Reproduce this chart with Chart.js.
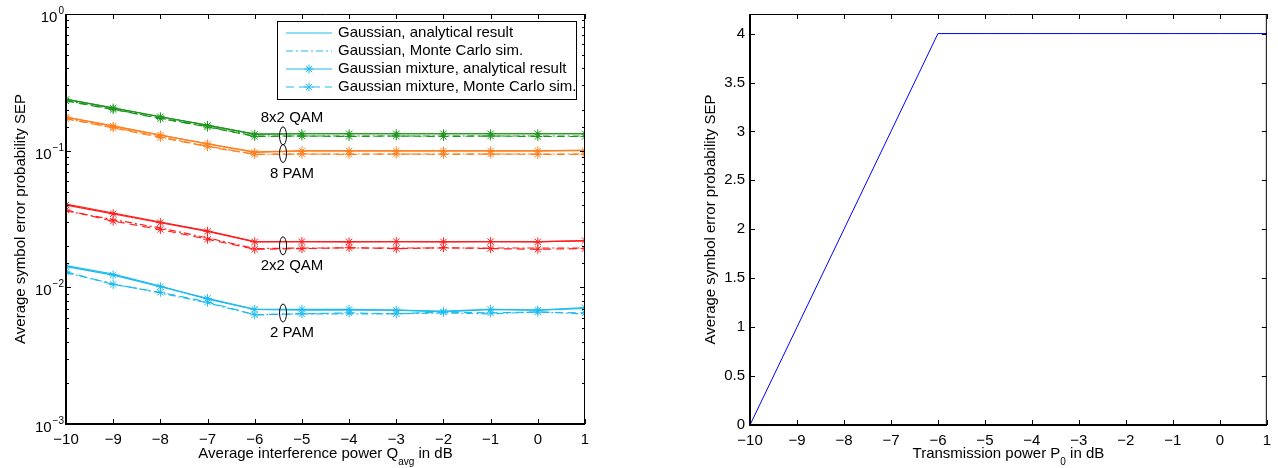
<!DOCTYPE html>
<html>
<head>
<meta charset="utf-8">
<script src="https://cdn.jsdelivr.net/npm/chart.js@4.4.1/dist/chart.umd.min.js"></script>
<style>
body { margin: 0; background: #fff; }
#left { position: absolute; left: 0; top: 0; width: 600px; height: 468px; }
#right { position: absolute; left: 640px; top: 0; width: 638px; height: 468px; }
</style>
</head>
<body>
<div id="left"><canvas id="sepChart"></canvas></div>
<div id="right"><canvas id="powerChart"></canvas></div>
<script>
// x-as: gemiddeld interferentievermogen / zendvermogen in dB
var xValues = [-10, -9, -8, -7, -6, -5, -4, -3, -2, -1, 0, 1];

// 8x2 QAM
var qam8x2GaussAna = [0.238, 0.206, 0.177, 0.154, 0.132, 0.133, 0.133, 0.133, 0.133, 0.133, 0.133, 0.133];
var qam8x2GaussSim = [0.233, 0.201, 0.173, 0.150, 0.128, 0.128, 0.128, 0.128, 0.128, 0.128, 0.128, 0.128];
var qam8x2MixAna = [0.237, 0.205, 0.177, 0.153, 0.132, 0.133, 0.133, 0.133, 0.133, 0.133, 0.133, 0.133];
var qam8x2MixSim = [0.231, 0.200, 0.172, 0.149, 0.127, 0.128, 0.127, 0.128, 0.127, 0.128, 0.127, 0.127];
// 8 PAM
var pam8GaussAna = [0.176, 0.152, 0.130, 0.112, 0.098, 0.0995, 0.0995, 0.0995, 0.0995, 0.0995, 0.0995, 0.101];
var pam8GaussSim = [0.172, 0.148, 0.126, 0.108, 0.094, 0.0945, 0.0945, 0.0945, 0.0945, 0.0945, 0.0945, 0.0945];
var pam8MixAna = [0.176, 0.151, 0.130, 0.112, 0.097, 0.0995, 0.0995, 0.0995, 0.0995, 0.0995, 0.0995, 0.100];
var pam8MixSim = [0.171, 0.147, 0.125, 0.107, 0.094, 0.0945, 0.094, 0.0945, 0.094, 0.0945, 0.094, 0.094];
// 2x2 QAM
var qam2x2GaussAna = [0.0407, 0.0350, 0.0300, 0.0259, 0.0216, 0.0216, 0.0216, 0.0216, 0.0216, 0.0216, 0.0216, 0.0219];
var qam2x2GaussSim = [0.0362, 0.0313, 0.0272, 0.0230, 0.0192, 0.0194, 0.0194, 0.0194, 0.0194, 0.0194, 0.0194, 0.0194];
var qam2x2MixAna = [0.0400, 0.0345, 0.0297, 0.0257, 0.0215, 0.0216, 0.0215, 0.0216, 0.0215, 0.0216, 0.0215, 0.0220];
var qam2x2MixSim = [0.0368, 0.0305, 0.0265, 0.0225, 0.0190, 0.0192, 0.0195, 0.0192, 0.0195, 0.0192, 0.0190, 0.0192];
// 2 PAM
var pam2GaussAna = [0.0144, 0.0125, 0.0102, 0.0082, 0.0069, 0.0068, 0.0068, 0.0068, 0.0067, 0.0069, 0.0068, 0.0070];
var pam2GaussSim = [0.0128, 0.0106, 0.0091, 0.0077, 0.0063, 0.0064, 0.0064, 0.0064, 0.0065, 0.0064, 0.0066, 0.0064];
var pam2MixAna = [0.0142, 0.0123, 0.0101, 0.0083, 0.0069, 0.0069, 0.0069, 0.0068, 0.0066, 0.0069, 0.0068, 0.0071];
var pam2MixSim = [0.0130, 0.0105, 0.0092, 0.0078, 0.0063, 0.0064, 0.0065, 0.0064, 0.0066, 0.0065, 0.0066, 0.0065];

// rechter grafiek
var powerSep = [0, 1, 2, 3, 4, 4, 4, 4, 4, 4, 4, 4];

var legendLabels = ['Gaussian, analytical result', 'Gaussian, Monte Carlo sim.', 'Gaussian mixture, analytical result', 'Gaussian mixture, Monte Carlo sim.'];

var font = '"Liberation Sans", Arial, Helvetica, sans-serif';
var dashDot = [7, 3, 2, 3];
var dashed = [8, 5];

var groups = [
    { name: '8x2 QAM', color: '#1e961e', ana: qam8x2GaussAna, sim: qam8x2GaussSim, mixAna: qam8x2MixAna, mixSim: qam8x2MixSim, above: true },
    { name: '8 PAM', color: '#ff7f1e', ana: pam8GaussAna, sim: pam8GaussSim, mixAna: pam8MixAna, mixSim: pam8MixSim, above: false },
    { name: '2x2 QAM', color: '#ff1e1e', ana: qam2x2GaussAna, sim: qam2x2GaussSim, mixAna: qam2x2MixAna, mixSim: qam2x2MixSim, above: false },
    { name: '2 PAM', color: '#1ebbee', ana: pam2GaussAna, sim: pam2GaussSim, mixAna: pam2MixAna, mixSim: pam2MixSim, above: false }
];

function makeSet(values, color, dash, star) {
    return {
        data: values.map(function (v, i) { return { x: xValues[i], y: v }; }),
        borderColor: color,
        backgroundColor: color,
        borderWidth: 1.2,
        borderDash: dash,
        pointStyle: 'star',
        pointRadius: star ? 4.5 : 0,
        pointBorderWidth: 1,
        tension: 0
    };
}

var datasets = [];
groups.forEach(function (g) {
    datasets.push(makeSet(g.ana, g.color, [], false));
    datasets.push(makeSet(g.sim, g.color, dashDot, false));
    datasets.push(makeSet(g.mixAna, g.color, [], true));
    datasets.push(makeSet(g.mixSim, g.color, dashed, true));
});

function line(ctx, x1, y1, x2, y2) {
    ctx.beginPath();
    ctx.moveTo(x1, y1);
    ctx.lineTo(x2, y2);
    ctx.stroke();
}

// assen in matlab stijl: box, tickjes naar binnen, x-titel met subscript
var matlabAxes = {
    id: 'matlabAxes',
    afterDraw: function (chart, args, opts) {
        var ctx = chart.ctx, a = chart.chartArea, x = chart.scales.x, y = chart.scales.y;
        ctx.save();
        ctx.strokeStyle = '#000';
        ctx.lineWidth = 1;
        line(ctx, a.left, a.top + 0.5, a.right, a.top + 0.5);
        line(ctx, a.right - 0.5, a.top, a.right - 0.5, a.bottom);
        ctx.lineWidth = 2;
        line(ctx, a.left - 1, a.bottom, a.right, a.bottom);
        line(ctx, a.left, a.top, a.left, a.bottom + 1);
        ctx.lineWidth = 1;
        x.ticks.forEach(function (t) {
            var px = Math.round(x.getPixelForValue(t.value)) + 0.5;
            line(ctx, px, a.bottom, px, a.bottom - 5);
            line(ctx, px, a.top, px, a.top + 5);
        });
        y.ticks.forEach(function (t) {
            var py = Math.round(y.getPixelForValue(t.value)) + 0.5;
            var len = 5;
            if (opts.logY) {
                var l = Math.log10(t.value);
                if (Math.abs(l - Math.round(l)) > 1e-6) len = 3;
            }
            line(ctx, a.left, py, a.left + len, py);
            line(ctx, a.right, py, a.right - len, py);
            if (opts.logY && len === 5) {
                var e = Math.round(Math.log10(t.value));
                var es = e === 0 ? '0' : '\u2212' + Math.abs(e);
                ctx.fillStyle = '#000';
                ctx.textAlign = 'right';
                ctx.textBaseline = 'alphabetic';
                ctx.font = '10px ' + font;
                var ew = ctx.measureText(es).width;
                ctx.fillText(es, a.left - 2, py - 1);
                ctx.font = '15px ' + font;
                ctx.fillText('10', a.left - 3 - ew, py + 7);
            }
        });
        // x-titel
        var parts = opts.xTitle;
        var widths = parts.map(function (p) {
            ctx.font = (p[1] ? '10px ' : '15px ') + font;
            return ctx.measureText(p[0]).width;
        });
        var total = widths.reduce(function (s, w) { return s + w; }, 0);
        var cx = (a.left + a.right) / 2 - total / 2;
        ctx.textAlign = 'left';
        ctx.textBaseline = 'alphabetic';
        ctx.fillStyle = '#000';
        parts.forEach(function (p, i) {
            ctx.font = (p[1] ? '10px ' : '15px ') + font;
            ctx.fillText(p[0], cx, p[1] ? 465 : 458);
            cx += widths[i];
        });
        ctx.restore();
    }
};

// ellipsen, labels en legenda van de linker grafiek
var sepDecor = {
    id: 'sepDecor',
    afterDraw: function (chart) {
        var ctx = chart.ctx, a = chart.chartArea, x = chart.scales.x, y = chart.scales.y;
        var ex = x.getPixelForValue(-5.4);
        ctx.save();
        ctx.strokeStyle = '#000';
        ctx.fillStyle = '#000';
        ctx.lineWidth = 1;
        ctx.font = '15px ' + font;
        ctx.textAlign = 'center';
        ctx.textBaseline = 'middle';
        groups.forEach(function (g) {
            var cy = (y.getPixelForValue(g.ana[5]) + y.getPixelForValue(g.sim[5])) / 2 + 1;
            ctx.beginPath();
            ctx.ellipse(ex, cy, 3.5, 9, 0, 0, Math.PI * 2);
            ctx.stroke();
            ctx.fillText(g.name, ex + 9, g.above ? cy - 18 : cy + 20);
        });

        // legenda
        var bw = 299, bh = 78;
        var bx = a.right - 9 - bw, by = a.top + 7;
        ctx.fillStyle = '#fff';
        ctx.fillRect(bx, by, bw, bh);
        ctx.strokeRect(bx + 0.5, by + 0.5, bw, bh);
        var c = groups[3].color;
        var styles = [[[], false], [dashDot, false], [[], true], [dashed, true]];
        ctx.textAlign = 'left';
        legendLabels.forEach(function (lab, i) {
            var ry = by + 12 + i * 18;
            ctx.strokeStyle = c;
            ctx.setLineDash(styles[i][0]);
            line(ctx, bx + 9, ry, bx + 55, ry);
            ctx.setLineDash([]);
            if (styles[i][1]) {
                ctx.fillStyle = c;
                Chart.helpers.drawPoint(ctx, { pointStyle: 'star', radius: 4.5, borderWidth: 1, rotation: 0 }, bx + 32, ry);
            }
            ctx.fillStyle = '#000';
            ctx.fillText(lab, bx + 61, ry);
        });
        ctx.restore();
    }
};

var tickFont = { family: font, size: 15 };
var titleFont = { family: font, size: 15 };

function minusLabel(v) {
    return String(v).replace('-', '\u2212');
}

new Chart(document.getElementById('sepChart'), {
    type: 'line',
    data: { datasets: datasets },
    options: {
        responsive: true,
        maintainAspectRatio: false,
        animation: false,
        layout: { padding: { top: 14, right: 15, left: 0, bottom: 0 } },
        plugins: {
            legend: { display: false },
            tooltip: { enabled: false },
            matlabAxes: { logY: true, xTitle: [['Average interference power Q', 0], ['avg', 1], [' in dB', 0]] }
        },
        scales: {
            x: {
                type: 'linear', min: -10, max: 1,
                grid: { display: false, drawTicks: false }, border: { display: false },
                ticks: { stepSize: 1, color: '#000', font: tickFont, padding: 7, maxRotation: 0, autoSkip: false, callback: minusLabel },
                afterFit: function (s) { s.height = 44; }
            },
            y: {
                type: 'logarithmic', min: 0.001, max: 1,
                grid: { display: false, drawTicks: false }, border: { display: false },
                ticks: { display: false, autoSkip: false },
                title: { display: true, text: 'Average symbol error probability SEP', color: '#000', font: titleFont, padding: { top: 12, bottom: 0 } },
                afterFit: function (s) { s.width = 66; }
            }
        }
    },
    plugins: [matlabAxes, sepDecor]
});

new Chart(document.getElementById('powerChart'), {
    type: 'line',
    data: {
        datasets: [{
            data: powerSep.map(function (v, i) { return { x: xValues[i], y: v }; }),
            borderColor: '#0000ff',
            borderWidth: 1,
            pointRadius: 0,
            tension: 0
        }]
    },
    options: {
        responsive: true,
        maintainAspectRatio: false,
        animation: false,
        layout: { padding: { top: 14, right: 7, left: 50, bottom: 0 } },
        plugins: {
            legend: { display: false },
            tooltip: { enabled: false },
            matlabAxes: { logY: false, xTitle: [['Transmission power P', 0], ['0', 1], [' in dB', 0]] }
        },
        scales: {
            x: {
                type: 'linear', min: -10, max: 1,
                grid: { display: false, drawTicks: false }, border: { display: false },
                ticks: { stepSize: 1, color: '#000', font: tickFont, padding: 7, maxRotation: 0, autoSkip: false, callback: minusLabel },
                afterFit: function (s) { s.height = 43; }
            },
            y: {
                min: 0, max: 4.2,
                grid: { display: false, drawTicks: false }, border: { display: false },
                ticks: { stepSize: 0.5, includeBounds: false, color: '#000', font: tickFont, padding: 5, callback: function (v) { return String(v); } },
                title: { display: true, text: 'Average symbol error probability SEP', color: '#000', font: titleFont, padding: { top: 12, bottom: 0 } },
                afterFit: function (s) { s.width = 60; }
            }
        }
    },
    plugins: [matlabAxes]
});
</script>
</body>
</html>
